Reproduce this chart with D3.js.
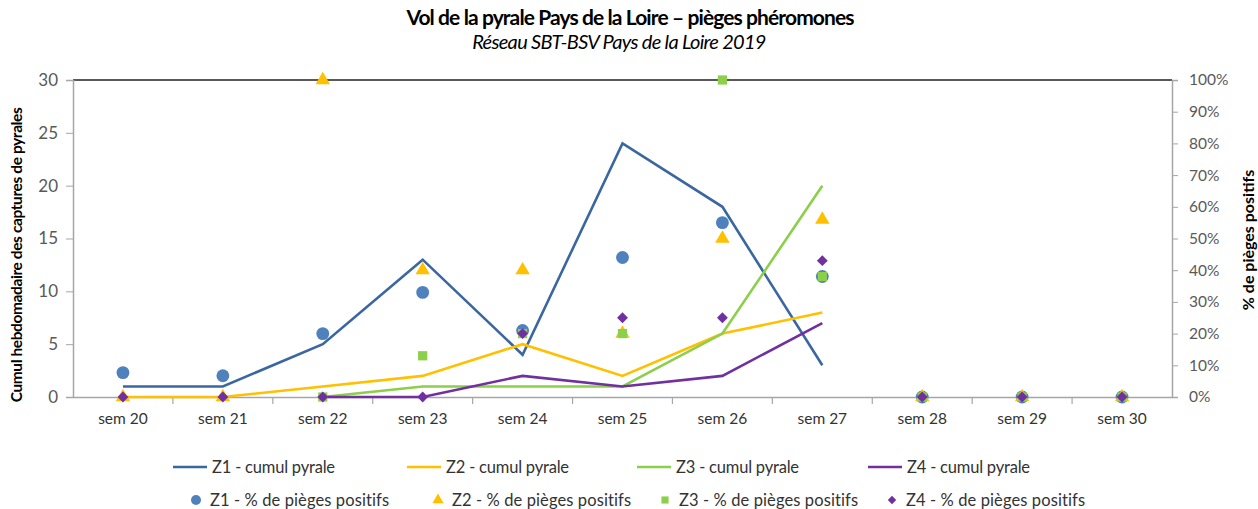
<!DOCTYPE html>
<html><head><meta charset="utf-8">
<script src="https://cdn.jsdelivr.net/npm/d3@7"></script>
<style>
body{margin:0;background:#fff;}
text{font-family:Lato,"Open Sans",sans-serif;}
</style></head>
<body><svg id="c" width="1258" height="509"></svg>
<script>
const categories = ["sem 20","sem 21","sem 22","sem 23","sem 24","sem 25","sem 26","sem 27","sem 28","sem 29","sem 30"];
const z1Cumul = [1,1,5,13,4,24,18,3,null,null,null];
const z2Cumul = [0,0,1,2,5,2,6,8,null,null,null];
const z3Cumul = [null,null,0,1,1,1,6,20,null,null,null];
const z4Cumul = [null,null,0,0,2,1,2,7,null,null,null];
const z1Pct = [0.077,0.067,0.20,0.33,0.21,0.44,0.55,0.38,0,0,0];
const z2Pct = [0,0,1.0,0.40,0.40,0.20,0.50,0.56,0,0,0];
const z3Pct = [null,null,0,0.13,0.20,0.20,1.0,0.38,0,0,0];
const z4Pct = [0,0,0,0,0.20,0.25,0.25,0.43,0,0,0];
const leftTicks = [0,5,10,15,20,25,30];
const rightTicks = [0,0.1,0.2,0.3,0.4,0.5,0.6,0.7,0.8,0.9,1.0];

const svg = d3.select("#c");
const L=73, R=1172, T=80, B=397;
const x = d3.scaleBand().domain(categories).range([L,R]);
const yL = d3.scaleLinear().domain([0,30]).range([B,T]);
const yR = d3.scaleLinear().domain([0,1]).range([B,T]);
const axisCol="#a6a6a6", txtCol="#595959";

// title
svg.append("text").attr("x",630).attr("y",25).attr("text-anchor","middle")
  .attr("font-size",21).attr("font-weight","bold").attr("fill","#000").attr("letter-spacing","-0.9")
  .text("Vol de la pyrale Pays de la Loire – pièges phéromones");
svg.append("text").attr("x",619).attr("y",49).attr("text-anchor","middle")
  .attr("font-size",20).attr("font-style","italic").attr("fill","#000").attr("letter-spacing","-0.7")
  .text("Réseau SBT-BSV Pays de la Loire 2019");

// top line
svg.append("line").attr("x1",L).attr("x2",R).attr("y1",yL(30)).attr("y2",yL(30))
  .attr("stroke","#595959").attr("stroke-width",2);

// left axis
const gl = svg.append("g").attr("transform",`translate(${L},0)`)
  .call(d3.axisLeft(yL).tickValues(leftTicks).tickSize(7).tickPadding(8));
gl.select(".domain").attr("stroke",axisCol).attr("stroke-width",1.5);
gl.selectAll(".tick line").attr("stroke",axisCol);
gl.selectAll(".tick text").attr("font-size",17).attr("fill",txtCol).attr("font-family","Lato, sans-serif");

// right axis
const gr = svg.append("g").attr("transform",`translate(${R},0)`)
  .call(d3.axisRight(yR).tickValues(rightTicks).tickFormat(d3.format(".0%")).tickSize(6).tickPadding(11));
gr.select(".domain").attr("stroke",axisCol).attr("stroke-width",1.5);
gr.selectAll(".tick line").attr("stroke",axisCol);
gr.selectAll(".tick text").attr("font-size",15.5).attr("fill",txtCol).attr("font-family","Lato, sans-serif");

// bottom axis
const gb = svg.append("g").attr("transform",`translate(0,${B})`)
  .call(d3.axisBottom(x).tickSize(0).tickPadding(16));
gb.select(".domain").attr("stroke",axisCol).attr("stroke-width",1.5);
gb.selectAll(".tick text").attr("font-size",15.5).attr("fill","#333").attr("font-family","Lato, sans-serif");
const bounds = categories.slice(1).map(c=>x(c));
svg.append("g").selectAll("line").data(bounds).join("line")
  .attr("x1",d=>d).attr("x2",d=>d).attr("y1",B).attr("y2",B+7).attr("stroke",axisCol).attr("stroke-width",1.2);

// axis titles
svg.append("text").attr("transform","translate(22,255) rotate(-90)").attr("text-anchor","middle")
  .attr("font-size",15.5).attr("font-weight","bold").attr("fill","#000").attr("letter-spacing","-0.4")
  .text("Cumul hebdomadaire des captures de pyrales");
svg.append("text").attr("transform","translate(1254,240) rotate(-90)").attr("text-anchor","middle")
  .attr("font-size",16).attr("font-weight","bold").attr("fill","#000")
  .text("% de pièges positifs");

const cx = c => x(c)+x.bandwidth()/2;
const lineSeries = [
  {v:z1Cumul,c:"#3b67a0"},{v:z2Cumul,c:"#ffc000"},{v:z3Cumul,c:"#8ccf4a"},{v:z4Cumul,c:"#7030a0"}];
const lg = d3.line().defined(d=>d.v!=null).x(d=>cx(d.c)).y(d=>yL(d.v));
lineSeries.forEach(s=>{
  svg.append("path").datum(categories.map((c,i)=>({c,v:s.v[i]})))
    .attr("d",lg).attr("fill","none").attr("stroke",s.c).attr("stroke-width",2.6).attr("stroke-linejoin","miter");
});

const ptSeries = [
  {v:z1Pct,c:"#4f81bd",t:d3.symbolCircle,s:130},
  {v:z2Pct,c:"#ffc000",t:d3.symbolTriangle,s:90},
  {v:z3Pct,c:"#8ccf4a",t:d3.symbolSquare,s:85},
  {v:z4Pct,c:"#7030a0",t:d3.symbolDiamond2,s:75}];
ptSeries.forEach(s=>{
  svg.append("g").selectAll("path").data(categories.map((c,i)=>({c,v:s.v[i]})).filter(d=>d.v!=null))
    .join("path").attr("d",d3.symbol().type(s.t).size(s.s))
    .attr("transform",d=>`translate(${cx(d.c)},${yR(d.v)})`).attr("fill",s.c);
});

// legend
const leg1 = [{x:173,c:"#3b67a0",t:"Z1 - cumul pyrale"},{x:407,c:"#ffc000",t:"Z2 - cumul pyrale"},
  {x:637,c:"#8ccf4a",t:"Z3 - cumul pyrale"},{x:868,c:"#7030a0",t:"Z4 - cumul pyrale"}];
leg1.forEach(d=>{
  svg.append("line").attr("x1",d.x).attr("x2",d.x+34).attr("y1",467).attr("y2",467).attr("stroke",d.c).attr("stroke-width",2.6);
  svg.append("text").attr("x",d.x+39).attr("y",473).attr("font-size",16.5).attr("fill","#333").attr("letter-spacing","-0.2").text(d.t);
});
const leg2 = [{x:196,i:0,t:"Z1 - % de pièges positifs"},{x:438,i:1,t:"Z2 - % de pièges positifs"},
  {x:665,i:2,t:"Z3 - % de pièges positifs"},{x:892,i:3,t:"Z4 - % de pièges positifs"}];
leg2.forEach(d=>{
  const s=ptSeries[d.i];
  svg.append("path").attr("d",d3.symbol().type(s.t).size(s.s*0.6)).attr("transform",`translate(${d.x},500)`).attr("fill",s.c);
  svg.append("text").attr("x",d.x+14).attr("y",506).attr("font-size",16.5).attr("fill","#333").attr("letter-spacing","0.1").text(d.t);
});
</script></body></html>
